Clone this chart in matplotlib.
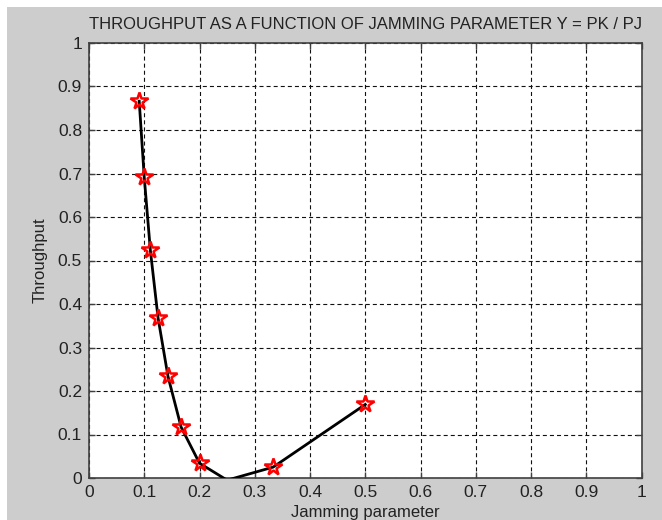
import matplotlib.pyplot as plt
from matplotlib.patches import Rectangle
import numpy as np

plt.rcParams.update({
    'font.family': ['Liberation Sans', 'DejaVu Sans'],
    'font.size': 12,
    'lines.scale_dashes': False,
})

# jamming parameter values and throughput
jam = np.array([0.0909, 0.1, 0.1111, 0.125, 0.1429, 0.1667, 0.2, 0.25, 0.3333, 0.5])
thr = np.array([0.866, 0.691, 0.523, 0.368, 0.234, 0.117, 0.034, -0.005, 0.025, 0.169])
ticks = [0, 0.1, 0.2, 0.3, 0.4, 0.5, 0.6, 0.7, 0.8, 0.9, 1]
tick_labels = ['0', '0.1', '0.2', '0.3', '0.4', '0.5', '0.6', '0.7', '0.8', '0.9', '1']

txt = '#222222'
fig = plt.figure(figsize=(6.62, 5.2), dpi=100, facecolor='white')
fig.patches.append(Rectangle((7 / 662, 0), 1, 1 - 7 / 520, transform=fig.transFigure,
                             facecolor='#cdcdcd', edgecolor='none', zorder=-10))

ax = fig.add_axes([89 / 662, 1 - 478 / 520, 552.5 / 662, 435 / 520])
ax.set_facecolor('white')

ax.plot(jam, thr, color='black', linewidth=2, zorder=3)
vis = thr >= 0
ax.plot(jam[vis], thr[vis], linestyle='none', marker='*', markersize=13,
        markerfacecolor='none', markeredgecolor='red', markeredgewidth=1.8, zorder=4)

ax.set_xlim(0, 1)
ax.set_ylim(0, 1)
ax.set_xticks(ticks)
ax.set_yticks(ticks)
ax.set_xticklabels(tick_labels)
ax.set_yticklabels(tick_labels)
ax.grid(True, color='#111111', linestyle=(0, (2.9, 2.2)), linewidth=0.8)
ax.tick_params(direction='in', length=4.5, width=1, top=True, right=True,
               colors='#404040', labelcolor=txt, labelsize=12.5, pad=5)
for s in ax.spines.values():
    s.set_color('#404040')
    s.set_linewidth(1.2)

ax.set_title('THROUGHPUT AS A FUNCTION OF JAMMING PARAMETER Y = PK / PJ',
             fontsize=12, color=txt, pad=10)
ax.set_xlabel('Jamming parameter', fontsize=12, color=txt, labelpad=4)
ax.set_ylabel('Throughput', fontsize=12, color=txt, labelpad=7)

plt.savefig('out.png', dpi=100, facecolor=fig.get_facecolor())
